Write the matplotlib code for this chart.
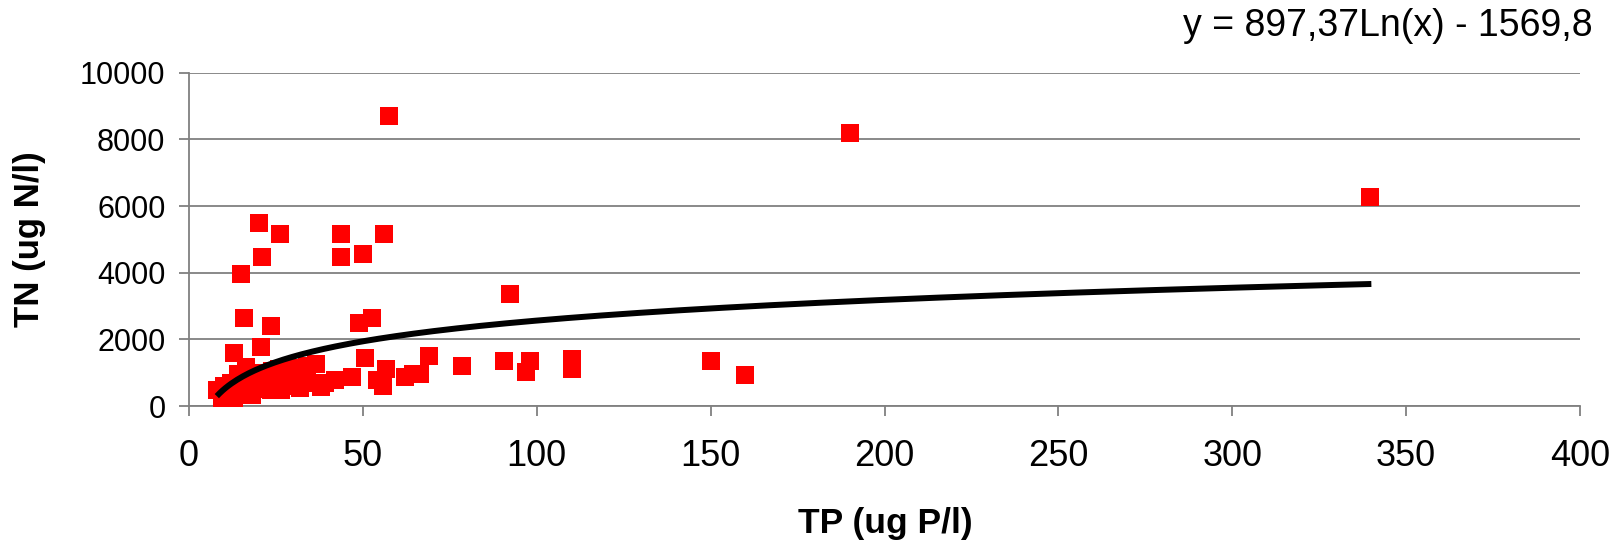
import numpy as np
import matplotlib
matplotlib.use('Agg')
import matplotlib.pyplot as plt

plt.rcParams['font.family'] = ['Liberation Sans', 'DejaVu Sans']

# TP (ug P/l) and TN (ug N/l)
tp = [57.6, 190, 339.7,
      20, 26.3, 21, 15, 43.6, 43.6, 50, 56,
      15.7, 23.7, 20.8, 13, 49, 52.5, 50.7, 69, 78.6, 92.4,
      56.7, 55.8, 54, 62, 64.5, 66.5,
      90.7, 98, 96.8, 110, 110, 150, 160,
      36.6, 42, 47, 39, 32,
      8, 9.5, 13, 18, 16.5, 14,
      23.5, 26.4, 38, 26, 30, 34, 28, 32,
      12, 15, 18, 21, 24,
      11, 14, 17, 20, 22, 25, 28, 30, 33, 35, 31, 24, 19, 16, 12, 10]
tn = [8700, 8180, 6260,
      5500, 5150, 4470, 3950, 5150, 4470, 4570, 5150,
      2650, 2390, 1780, 1600, 2480, 2650, 1440, 1510, 1200, 3350,
      1100, 590, 780, 870, 965, 960,
      1350, 1350, 1010, 1420, 1120, 1350, 940,
      1260, 780, 870, 700, 540,
      480, 250, 250, 340, 1180, 970,
      480, 480, 580, 1100, 1150, 1200, 1090, 1090,
      700, 800, 950, 1000, 1050,
      400, 500, 600, 700, 500, 750, 800, 600, 850, 700, 900, 900, 500, 400, 350, 600]

# logarithmic trendline as printed on the chart
coef_a = 897.37
coef_b = -1569.8
trend_x = np.linspace(8, 340, 400)
trend_y = coef_a * np.log(trend_x) + coef_b

fig = plt.figure(figsize=(16.19, 5.45), dpi=100)
ax = fig.add_axes([189/1619, 1-406/545, (1580-189)/1619, (406-72.7)/545])

ax.plot(tp, tn, 's', color='#ff0000', ms=13.5, mew=0, zorder=3)
ax.plot(trend_x, trend_y, '-', color='black', lw=4.3, zorder=4, solid_capstyle='butt')

ax.set_xlim(0, 400)
ax.set_ylim(0, 10000)
ax.set_xticks(np.arange(0, 401, 50))
ax.set_yticks(np.arange(0, 10001, 2000))
ax.yaxis.grid(True, color='#808080', lw=1.3)
ax.set_axisbelow(True)
for s in ['top', 'right']:
    ax.spines[s].set_visible(False)
for s in ['left', 'bottom']:
    ax.spines[s].set_color('#808080')
    ax.spines[s].set_linewidth(1.3)
ax.tick_params(axis='both', colors='#808080', labelcolor='black',
               length=7, width=1.3, direction='out')
ax.tick_params(axis='x', labelsize=26, pad=17)
ax.tick_params(axis='y', labelsize=22, pad=10)

fig.text(30/1619, 1-239/545, 'TN (ug N/l)', rotation=90, ha='center', va='center',
         fontsize=25, fontweight='bold')
fig.text(885/1619, 1-524/545, 'TP (ug P/l)', ha='center', va='center',
         fontsize=25.5, fontweight='bold')
fig.text(1593/1619, 1-26/545, 'y = 897,37Ln(x) - 1569,8', ha='right', va='center',
         fontsize=27)

fig.savefig('out.png', dpi=100)
